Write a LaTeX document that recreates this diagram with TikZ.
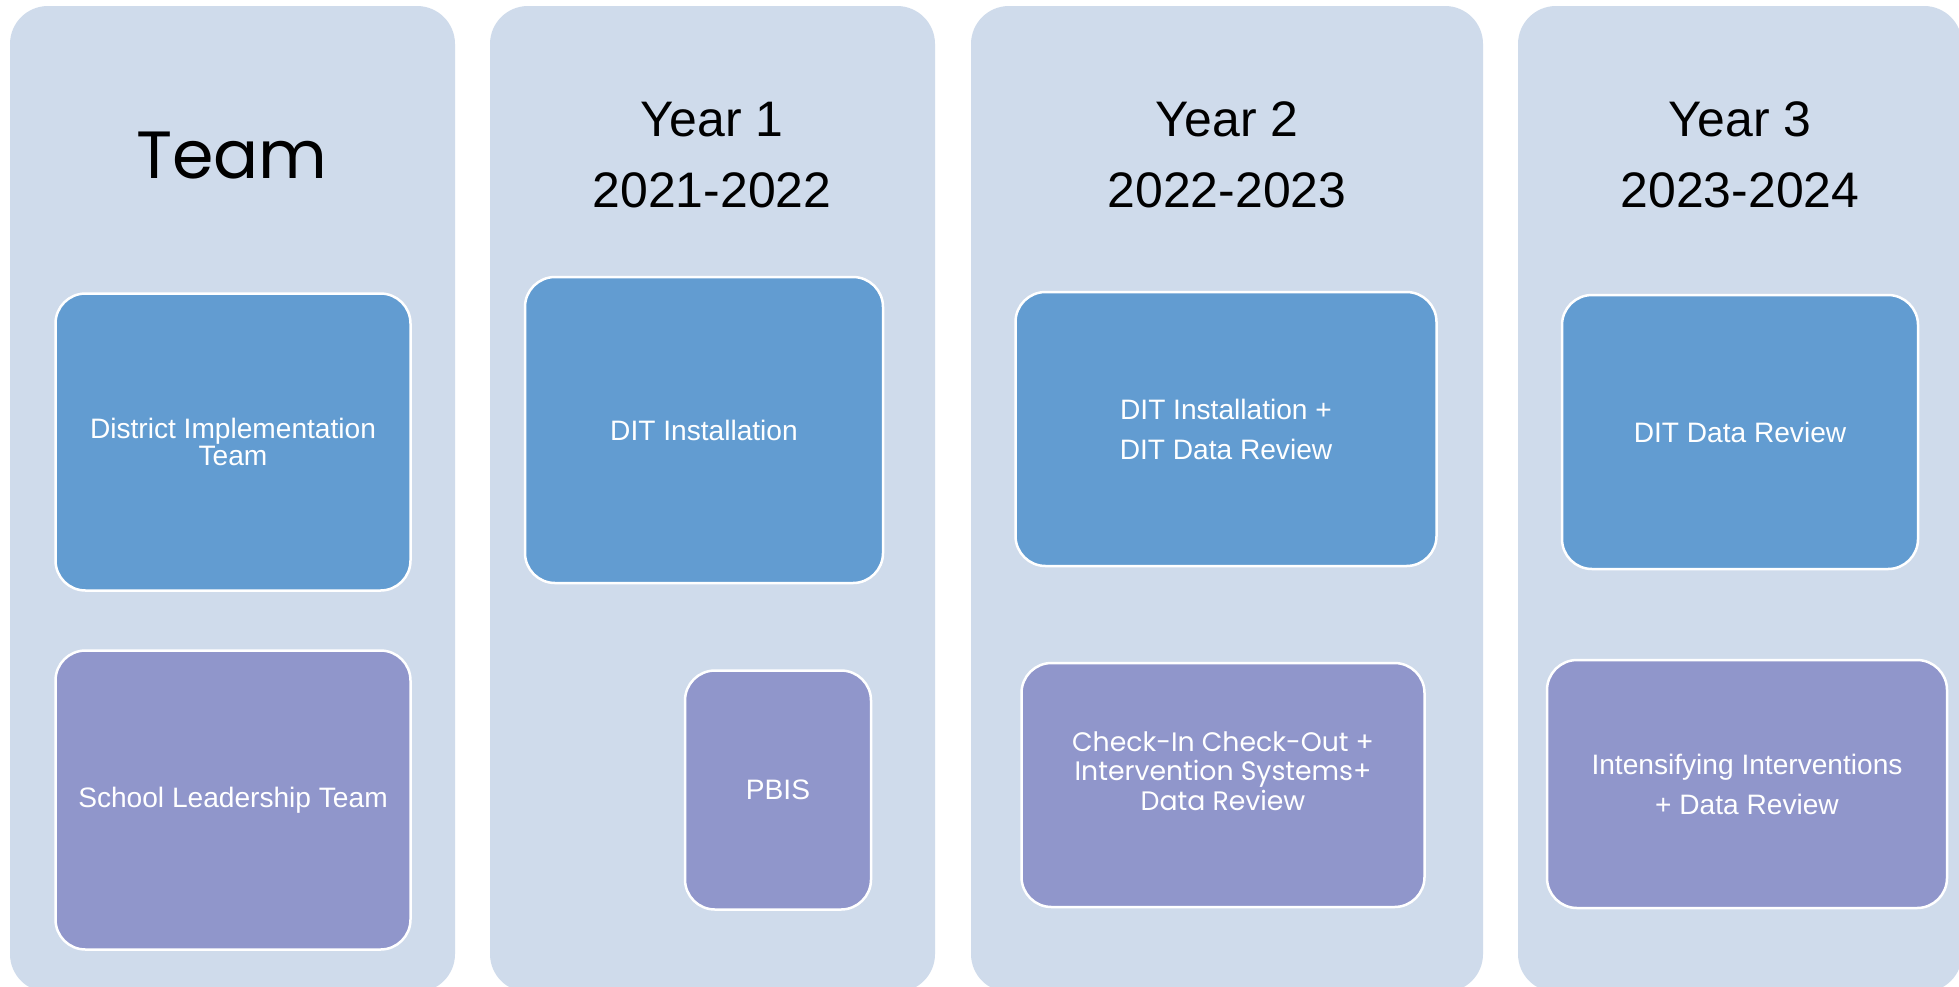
\documentclass[tikz,border=0pt]{standalone}
\usepackage{fontspec}
\setmainfont{Liberation Sans}
\newfontfamily\gothicfont{Poppins}
\begin{document}
\begin{tikzpicture}[x=0.1mm,y=-0.1mm]
  % Colors
  \definecolor{lanecolor}{RGB}{207,219,235}
  \definecolor{ditcolor}{RGB}{98,156,209}
  \definecolor{schoolcolor}{RGB}{144,150,203}

  % Styles
  \tikzstyle{lane}=[fill=lanecolor,rounded corners=3.8mm]
  \tikzstyle{year title}=[align=center,inner sep=0pt,font=\fontsize{14.2}{20.2}\selectfont]
  \tikzstyle{box}=[draw=white,line width=0.25mm,rounded corners=3mm,inner sep=1mm,
    align=center,text=white,font=\fontsize{8}{7.9}\selectfont]
  \tikzstyle{wide lines}=[font=\fontsize{8}{11.4}\selectfont]
  \tikzstyle{district box}=[box,fill=ditcolor]
  \tikzstyle{school box}=[box,fill=schoolcolor]

  % The graphic
  \useasboundingbox (0,0) rectangle (1959,986);
  \fill[white] (0,0) rectangle (1959,986);
  \clip (0,0) rectangle (1959,986);

  \foreach \xa/\xb in {10/455, 490/935, 971/1483, 1518/1962}
    \fill[style=lane] (\xa,6) rectangle (\xb,992);

  % Titles
  \node[year title,font=\gothicfont\fontsize{19}{22}\selectfont] (team) at (232,156) {Team};
  \node[year title] (year1) at (712,155) {Year 1\\2021-2022};
  \node[year title] (year2) at (1227,155) {Year 2\\2022-2023};
  \node[year title] (year3) at (1740,155) {Year 3\\2023-2024};

  % Team
  \node[district box,minimum width=35.5mm,minimum height=29.7mm] (dit)
    at (233,442) {District Implementation\\Team};
  \node[school box,minimum width=35.5mm,minimum height=29.9mm] (slt)
    at (233,800) {School Leadership Team};

  % Year 1
  \node[district box,minimum width=35.8mm,minimum height=30.6mm] (install)
    at (704,430) {DIT Installation};
  \node[school box,minimum width=18.6mm,minimum height=23.9mm] (pbis)
    at (778,790) {PBIS};

  % Year 2
  \node[district box,wide lines,minimum width=42.1mm,minimum height=27.4mm] (install review)
    at (1226,429) {DIT Installation +\\DIT Data Review};
  \node[school box,text depth=2.8mm,minimum width=40.3mm,minimum height=24.4mm,
    font=\gothicfont\fontsize{7.6}{8.4}\selectfont] (cico)
    at (1223,785) {Check-In Check-Out +\\Intervention Systems+\\Data Review};

  % Year 3
  \node[district box,minimum width=35.6mm,minimum height=27.4mm] (review)
    at (1740,432) {DIT Data Review};
  \node[school box,wide lines,minimum width=40mm,minimum height=24.8mm] (intensify)
    at (1747,784) {Intensifying Interventions\\+ Data Review};
\end{tikzpicture}
\end{document}
